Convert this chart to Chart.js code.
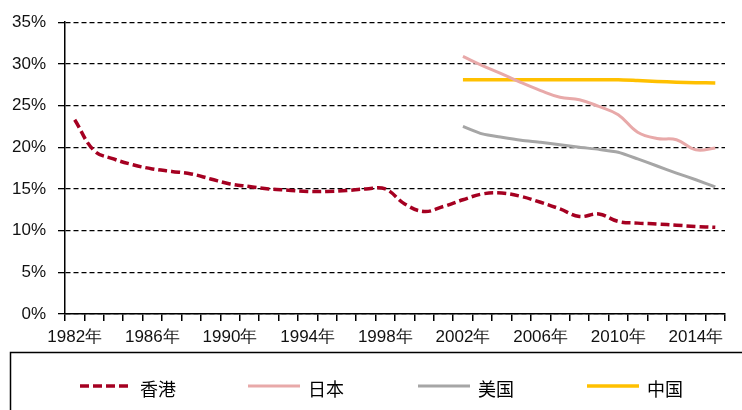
<!DOCTYPE html>
<html>
<head>
<meta charset="utf-8">
<script src="https://cdn.jsdelivr.net/npm/chart.js@4/dist/chart.umd.min.js"></script>
<style>
  html, body { margin: 0; padding: 0; background: #fff; }
  #wrap { width: 742px; height: 410px; position: relative; }
</style>
</head>
<body>
<div id="wrap"><canvas id="rateChart" width="742" height="410"></canvas></div>
<script>
// years on the x axis, one label every 4 years
const years = [1982, 1983, 1984, 1985, 1986, 1987, 1988, 1989, 1990, 1991, 1992, 1993, 1994, 1995, 1996, 1997,
    1998, 1999, 2000, 2001, 2002, 2003, 2004, 2005, 2006, 2007, 2008, 2009, 2010, 2011, 2012, 2013, 2014, 2015];
const yTicks = [0, 5, 10, 15, 20, 25, 30, 35];

const hongKong = [23.3, 19.6, 18.6, 17.9, 17.4, 17.1, 16.8, 16.2, 15.6, 15.3, 15.0, 14.85, 14.7, 14.7, 14.8, 15.0,
    15.0, 13.2, 12.3, 12.9, 13.7, 14.4, 14.5, 14.1, 13.4, 12.6, 11.7, 12.0, 11.1, 10.9, 10.8, 10.65, 10.5, 10.4];
// 2002 - 2015
const japan = [30.9, 29.8, 28.8, 27.75, 26.8, 26.0, 25.7, 24.9, 23.9, 21.8, 21.05, 20.9, 19.7, 19.9];
const usa = [22.5, 21.6, 21.2, 20.85, 20.6, 20.3, 20.0, 19.75, 19.4, 18.6, 17.75, 16.9, 16.1, 15.25];
const china = [28.1, 28.1, 28.1, 28.1, 28.1, 28.1, 28.1, 28.1, 28.1, 28.0, 27.9, 27.8, 27.75, 27.7];

const before2002 = years.filter(y => y < 2002).map(() => null);

const legendBox = {
    id: 'legendBox',
    afterDraw(chart) {
        const ctx = chart.ctx;
        ctx.save();
        ctx.strokeStyle = '#000';
        ctx.lineWidth = 1.5;
        ctx.strokeRect(10.5, 352.5, 760, 80);
        const starts = [80, 248, 418, 587];
        chart.data.datasets.forEach((ds, i) => {
            const x = starts[i];
            ctx.beginPath();
            ctx.lineWidth = ds.borderWidth;
            ctx.strokeStyle = ds.borderColor;
            ctx.setLineDash(ds.borderDash || []);
            ctx.moveTo(x, 386);
            ctx.lineTo(x + 52, 386);
            ctx.stroke();
            ctx.setLineDash([]);
            ctx.fillStyle = '#000';
            ctx.font = '18px "Noto Sans CJK SC"';
            ctx.textBaseline = 'middle';
            ctx.fillText(ds.label, x + 60, 389);
        });
        ctx.restore();
    }
};

const ctx = document.getElementById('rateChart').getContext('2d');
const chart = new Chart(ctx, {
    type: 'line',
    data: {
        labels: years,
        datasets: [{
            label: '香港',
            data: hongKong,
            borderColor: '#A50021',
            borderWidth: 3.5,
            borderDash: [9, 4],
            tension: 0.4
        }, {
            label: '日本',
            data: before2002.concat(japan),
            borderColor: '#E8A9A9',
            borderWidth: 3,
            tension: 0.4
        }, {
            label: '美国',
            data: before2002.concat(usa),
            borderColor: '#A6A6A6',
            borderWidth: 3,
            tension: 0.2
        }, {
            label: '中国',
            data: before2002.concat(china),
            borderColor: '#FFC000',
            borderWidth: 3.5,
            tension: 0.2
        }]
    },
    options: {
        responsive: false,
        animation: false,
        devicePixelRatio: 1,
        layout: { padding: { top: 18, right: 17, bottom: 56, left: 0 } },
        elements: { point: { radius: 0 } },
        plugins: {
            legend: { display: false },
            tooltip: { enabled: false }
        },
        scales: {
            x: {
                offset: true,
                grid: {
                    display: true,
                    offset: true,
                    drawOnChartArea: false,
                    drawTicks: true,
                    tickLength: 7,
                    color: '#000',
                    lineWidth: 1.5
                },
                border: { display: true, color: '#000', width: 1.5 },
                ticks: {
                    autoSkip: false,
                    maxRotation: 0,
                    padding: 6,
                    color: '#111',
                    font: { family: '"Liberation Sans", Arial', size: 17 },
                    callback: function (value, index) {
                        const y = years[index];
                        return (y - 1982) % 4 === 0 ? y + '年' : '';
                    }
                },
                afterFit: s => { s.height = 40; }
            },
            y: {
                min: yTicks[0],
                max: yTicks[yTicks.length - 1],
                afterBuildTicks: s => { s.ticks = yTicks.map(v => ({ value: v })); },
                grid: {
                    color: '#000',
                    lineWidth: 1.3,
                    drawTicks: true,
                    tickLength: 7
                },
                border: { display: true, color: '#000', width: 1.5, dash: [5, 3] },
                ticks: {
                    padding: 12,
                    color: '#111',
                    font: { family: '"Liberation Sans", Arial', size: 17 },
                    callback: v => v + '%'
                },
                afterFit: s => { s.width = 65; }
            }
        }
    },
    plugins: [legendBox]
});
</script>
</body>
</html>
